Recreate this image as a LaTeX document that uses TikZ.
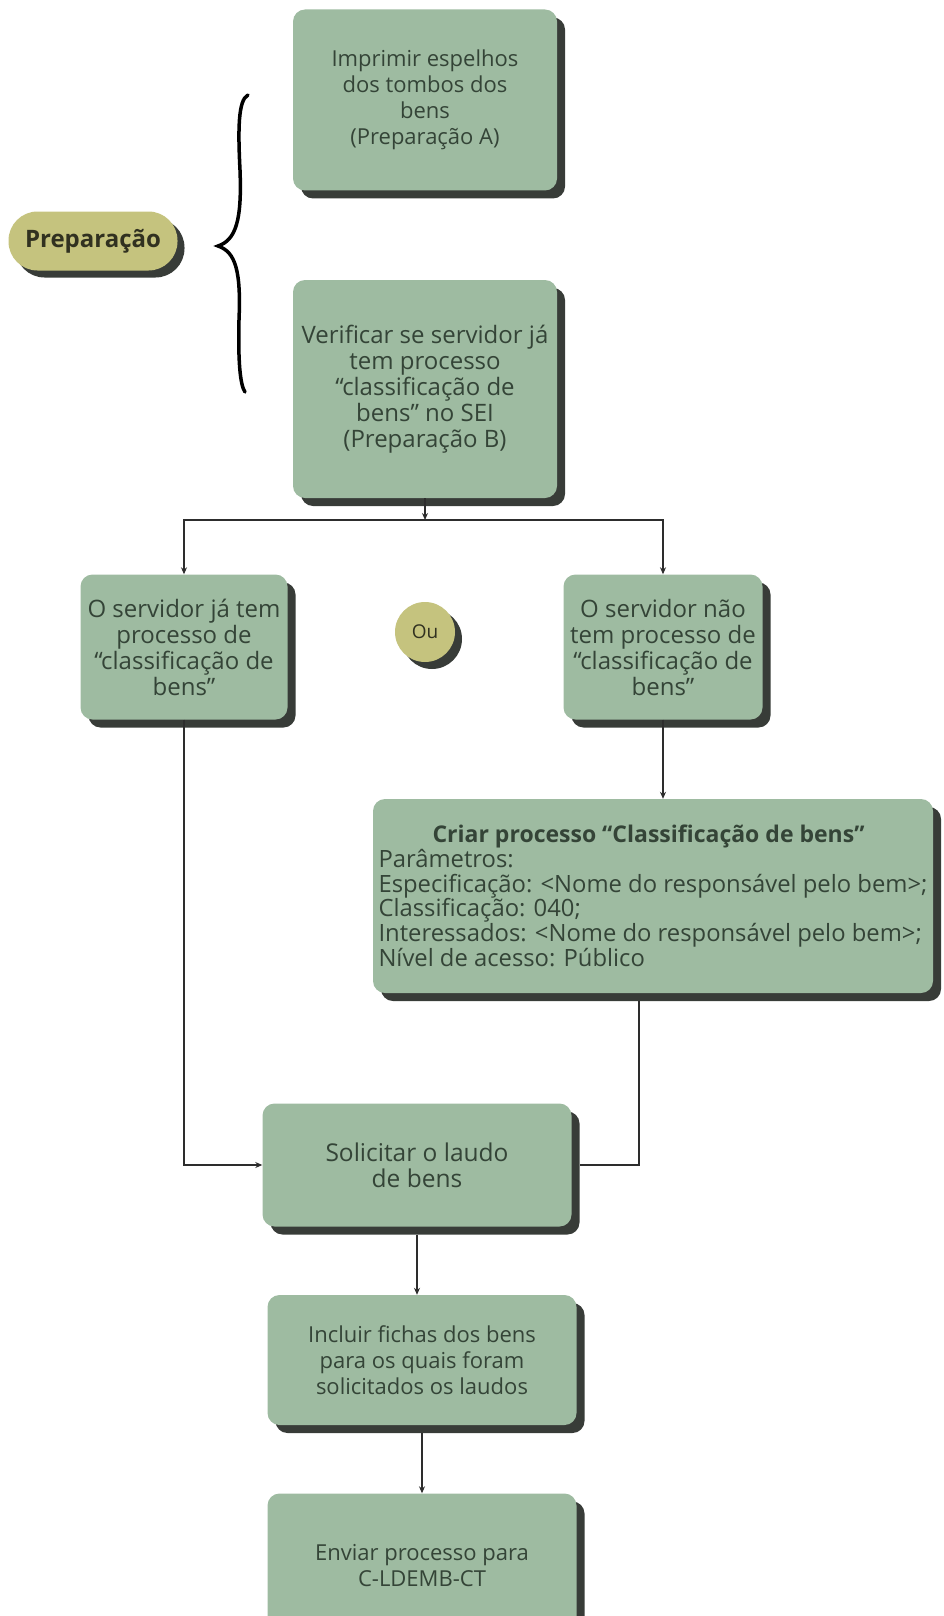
\documentclass[tikz,border=0pt]{standalone}
\usepackage{fontspec}
\setmainfont{Open Sans}
\usetikzlibrary{arrows.meta,shadows}
\definecolor{boxfill}{RGB}{158,187,161}
\definecolor{shad}{RGB}{56,60,56}
\definecolor{olive}{RGB}{197,195,126}
\definecolor{txt}{RGB}{52,68,55}
\definecolor{linec}{RGB}{45,45,45}
\tikzset{
  stepbox/.style={fill=boxfill, rounded corners=12pt, text=txt, align=center,
    inner sep=6pt, font=\fontsize{22}{26}\selectfont,
    drop shadow={shadow xshift=8pt, shadow yshift=-8pt, opacity=1, fill=shad}},
  bigtext/.style={font=\fontsize{24}{26}\selectfont},
  olivebox/.style={fill=olive, text=black!75!olive, align=center,
    drop shadow={shadow xshift=7pt, shadow yshift=-7pt, opacity=1, fill=shad}},
  conn/.style={draw=linec, line width=1.4pt},
  arr/.style={conn, -{Stealth[length=7pt,width=6pt]}},
}
\begin{document}
\begin{tikzpicture}[x=1pt,y=-1pt]
\useasboundingbox (0,0) rectangle (943,1616);
% nodes
\node[stepbox, minimum width=264pt, minimum height=181pt] (A) at (425,100)
  {Imprimir espelhos\\dos tombos dos\\bens\\(Preparação A)};
\node[stepbox, bigtext, minimum width=264pt, minimum height=218pt] (B) at (425,389)
  {Verificar se servidor já\\tem processo\\“classificação de\\bens” no SEI\\(Preparação B)};
\node[olivebox, rounded corners=29pt, minimum width=169pt, minimum height=59pt,
  font=\fontsize{24}{26}\selectfont\bfseries] (P) at (93,241) {Preparação};
\node[olivebox, circle, minimum size=60pt, inner sep=0pt,
  font=\fontsize{19}{20}\selectfont] (O) at (425,632) {Ou};
\node[stepbox, bigtext, minimum width=207pt, minimum height=145pt] (C) at (184,647)
  {O servidor já tem\\processo de\\“classificação de\\bens”};
\node[stepbox, bigtext, minimum width=199pt, minimum height=145pt] (D) at (663,647)
  {O servidor não\\tem processo de\\“classificação de\\bens”};
\node[stepbox, minimum width=560pt, minimum height=194pt, align=left, inner sep=0pt,
  font=\fontsize{23.8}{24.7}\selectfont] (E) at (653,896)
  {\makebox[540pt][c]{\bfseries\fontsize{23}{24.7}\selectfont Criar processo “Classificação de bens”}\\
   Parâmetros:\\
   Especificação: <Nome do responsável pelo bem>;\\
   Classificação: 040;\\
   Interessados: <Nome do responsável pelo bem>;\\
   Nível de acesso: Público};
\node[stepbox, font=\fontsize{24.5}{26}\selectfont, minimum width=309pt, minimum height=123pt] (F) at (417,1165)
  {Solicitar o laudo\\de bens};
\node[stepbox, minimum width=309pt, minimum height=130pt] (G) at (422,1360)
  {Incluir fichas dos bens\\para os quais foram\\solicitados os laudos};
\node[stepbox, minimum width=309pt, minimum height=145pt] (H) at (422,1566)
  {Enviar processo para\\C-LDEMB-CT};
% brace
\draw[line width=3.5pt, line cap=round] (248,95) .. controls (238,100) and (238,130) .. (240,170)
  .. controls (242,220) and (236,240) .. (218,246)
  .. controls (236,252) and (241,272) .. (239,320)
  .. controls (238,360) and (240,385) .. (245,392);
% connectors
\coordinate (J) at (425,520);
\draw[arr] (B.south) -- (J);
\draw[arr] (J) -| (C.north);
\draw[arr] (J) -| (D.north);
\draw[arr] (D.south) -- (D.south |- E.north);
\draw[arr] (C.south) |- (F.west);
\coordinate (Eo) at ([xshift=-14pt]E.south);
\draw[conn] ([yshift=-8pt]Eo) |- ([xshift=8pt]F.east);
\draw[arr] ([yshift=-8pt]F.south) -- (F.south |- G.north);
\draw[arr] ([yshift=-8pt]G.south) -- (G.south |- H.north);
\end{tikzpicture}
\end{document}
